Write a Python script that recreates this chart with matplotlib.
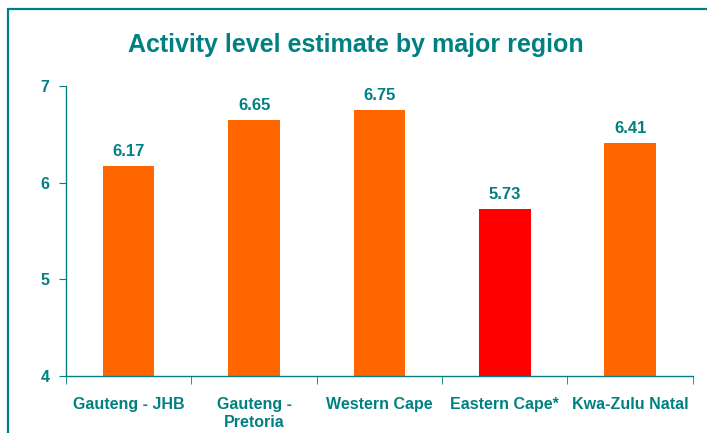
import numpy as np
import matplotlib.pyplot as plt
from matplotlib.patches import Rectangle

regions = ['Gauteng - JHB', 'Gauteng -\nPretoria', 'Western Cape', 'Eastern Cape*', 'Kwa-Zulu Natal']
values = [6.17, 6.65, 6.75, 5.73, 6.41]
colors = ['#FF6600', '#FF6600', '#FF6600', '#FF0000', '#FF6600']

teal = '#008080'
plt.rcParams['font.family'] = ['Liberation Sans', 'DejaVu Sans']

fig = plt.figure(figsize=(7.07, 4.33), dpi=100)
ax = fig.add_axes([0.0934, 0.1316, 0.8866, 0.6698])

x = np.arange(len(regions))
ax.bar(x, np.array(values) - 4, bottom=4, width=0.41, color=colors)

for xi, v in zip(x, values):
    ax.text(xi, v + 0.07, f'{v:.2f}', ha='center', va='bottom',
            fontsize=12, fontweight='bold', color=teal)

ax.set_xlim(-0.5, len(regions) - 0.5)
ax.set_ylim(4, 7)
ax.set_yticks([4, 5, 6, 7])
ax.set_xticks(x)
ax.set_xticklabels(regions, fontsize=11.5, fontweight='bold', color=teal, linespacing=1.25)
ax.set_xticks(np.arange(-0.5, len(regions)), minor=True)
ax.tick_params(axis='x', which='major', length=0, pad=15)
ax.tick_params(axis='x', which='minor', length=6, color=teal, direction='out')
ax.tick_params(axis='y', length=5, color=teal, labelsize=11.5, labelcolor=teal, pad=7)
for lab in ax.get_yticklabels():
    lab.set_fontweight('bold')

for s in ['top', 'right']:
    ax.spines[s].set_visible(False)
for s in ['left', 'bottom']:
    ax.spines[s].set_color(teal)
    ax.spines[s].set_linewidth(1.0)

fig.text(0.503, 0.895, 'Activity level estimate by major region', ha='center', va='center',
         fontsize=18, fontweight='bold', color=teal)

# frame around the chart, runs off the right and bottom edge
fig.patches.append(Rectangle((0.012, -0.05), 1.1, 1.029, transform=fig.transFigure,
                             fill=False, edgecolor=teal, linewidth=1.6))

fig.savefig('out.png', dpi=100)
